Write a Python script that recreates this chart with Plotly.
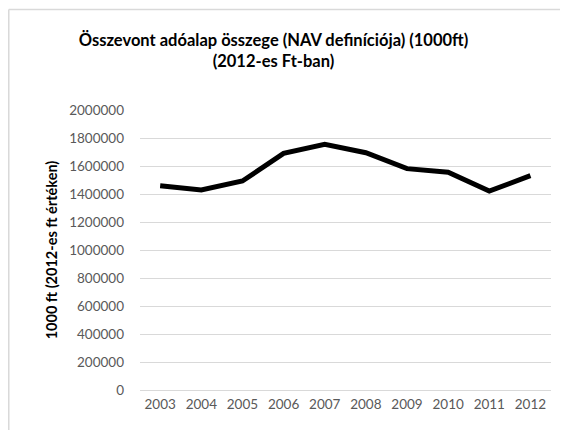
import plotly.graph_objects as go

years = ["2003", "2004", "2005", "2006", "2007", "2008", "2009", "2010", "2011", "2012"]
values = [1459000, 1429000, 1493000, 1690000, 1755000, 1695000, 1581000, 1555000, 1421000, 1531000]

title_text = "<b>Összevont adóalap összege (NAV definíciója) (1000ft)<br>(2012-es Ft-ban)</b>"
y_title = "<b>1000 ft (2012-es ft értéken)</b>"

font_family = "Lato, 'Open Sans', sans-serif"

fig = go.Figure(go.Scatter(
    x=years,
    y=values,
    mode="lines",
    line=dict(color="black", width=5),
))

# chart border (light grey frame, cut off at right and bottom)
border = "#d9d9d9"
fig.add_shape(type="line", xref="paper", yref="paper",
              x0=-0.3193, x1=-0.3193, y0=-0.2, y1=1.359,
              line=dict(color=border, width=1.5))
fig.add_shape(type="line", xref="paper", yref="paper",
              x0=-0.3193, x1=1.1, y0=1.359, y1=1.359,
              line=dict(color=border, width=1.5))

# page body has an 8px margin, so the figure is a bit smaller than the window
fig.update_layout(
    width=560,
    height=422,
    margin=dict(l=132, r=17, t=102, b=40, autoexpand=False),
    paper_bgcolor="white",
    plot_bgcolor="white",
    showlegend=False,
    font=dict(family=font_family, color="#595959", size=13.5),
    title=dict(
        text=title_text,
        x=0.3248, xref="paper", xanchor="center",
        y=0.911, yref="container", yanchor="middle",
        font=dict(family=font_family, size=16.5, color="black"),
    ),
)

fig.update_xaxes(
    type="category",
    range=[-0.49, 9.5],
    showgrid=False,
    showline=False,
    ticks="",
    automargin=False,
    ticklabelstandoff=4,
    tickfont=dict(size=13.5, color="#595959"),
)

fig.update_yaxes(
    range=[0, 2000000],
    dtick=200000,
    tickformat="d",
    showgrid=True,
    gridcolor="#d9d9d9",
    gridwidth=1,
    zeroline=True,
    zerolinecolor="#d9d9d9",
    zerolinewidth=1,
    showline=False,
    ticks="",
    automargin=False,
    ticklabelstandoff=15,
    tickfont=dict(size=13.5, color="#595959"),
    title=dict(text=y_title, font=dict(size=14.5, color="black"), standoff=8),
)

fig.write_html("out.html")
